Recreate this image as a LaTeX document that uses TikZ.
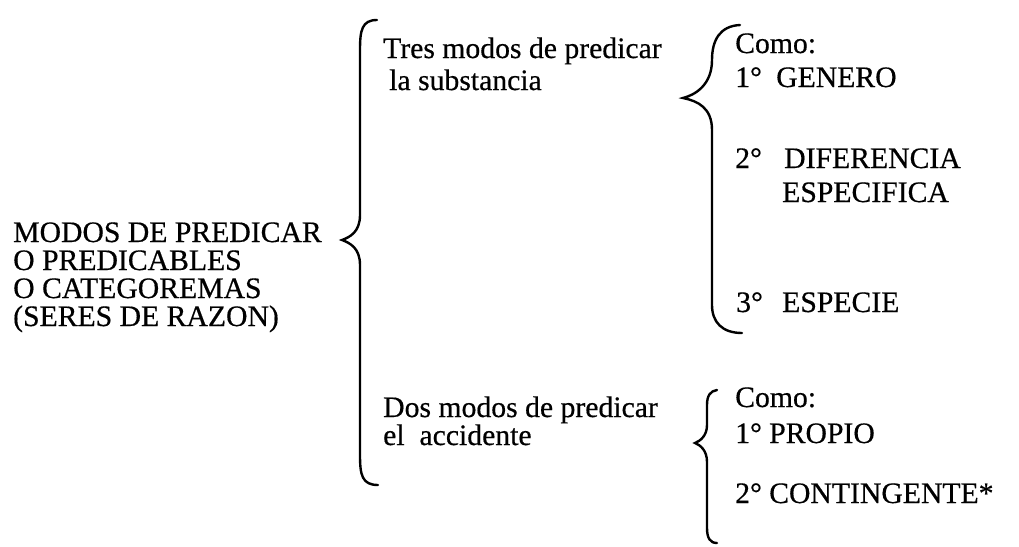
\documentclass[tikz,border=0pt]{standalone}
\usepackage{fontspec}
\setmainfont{Liberation Serif}[FakeBold=0.5]
\tikzset{main text/.style={anchor=base west,inner sep=0pt,font=\fontsize{29.7}{28}\selectfont},
  brace line/.style={line width=2.4pt,line cap=round},}

\begin{document}
\begin{tikzpicture}[x=1pt,y=-1pt]
    \useasboundingbox (0,0) rectangle (1019,546);
    % left block
    \node[main text] (m1) at (13,242) {MODOS DE PREDICAR};
    \node[main text] (m2) at (13,270) {O PREDICABLES};
    \node[main text] (m3) at (13,298) {O CATEGOREMAS};
    \node[main text] (m4) at (13,326) {(SERES DE RAZON)};
    % middle column
    \node[main text] (s1) at (383,58) {Tres modos de predicar};
    \node[main text] (s2) at (389,90) {la substancia};
    \node[main text] (a1) at (383,417) {Dos modos de predicar};
    \node[main text] (a2) at (383,445) {el~~accidente};
    % right column, substancia
    \node[main text] (c1) at (735,53) {Como:};
    \node[main text] (n1) at (735,87) {1°};
    \node[main text] (gen) at (776,87) {GENERO};
    \node[main text] (n2) at (735,168) {2°};
    \node[main text] (dif) at (784,168) {DIFERENCIA};
    \node[main text] (esp) at (782,202) {ESPECIFICA};
    \node[main text] (n3) at (736,312) {3°};
    \node[main text] (spe) at (782,312) {ESPECIE};
    % right column, accidente
    \node[main text] (c2) at (735,407) {Como:};
    \node[main text] (p1) at (735,443) {1°};
    \node[main text] (pro) at (769,443) {PROPIO};
    \node[main text] (p2) at (735,503) {2°};
    \node[main text] (con) at (769,503) {CONTINGENTE*};

    % braces
    \draw[brace line] (377,20) .. controls (362,20) and (360,30) .. (360,50) -- (360,215)
        .. controls (360,232) and (350,237) .. (342,240)
        .. controls (350,243) and (360,248) .. (360,265) -- (360,455)
        .. controls (360,475) and (362,485) .. (378,485);
    \draw[brace line] (740,25) .. controls (720,26) and (712,40) .. (712,60)
        .. controls (712,85) and (695,95) .. (683,98)
        .. controls (698,101) and (712,108) .. (712,130) -- (712,305)
        .. controls (712,322) and (722,333) .. (742,333);
    \draw[brace line] (717,390) .. controls (710,391) and (707,396) .. (707,405) -- (707,425)
        .. controls (707,436) and (700,441) .. (695,443)
        .. controls (700,445) and (707,450) .. (707,462) -- (707,528)
        .. controls (707,538) and (710,543) .. (717,543);
\end{tikzpicture}
\end{document}
